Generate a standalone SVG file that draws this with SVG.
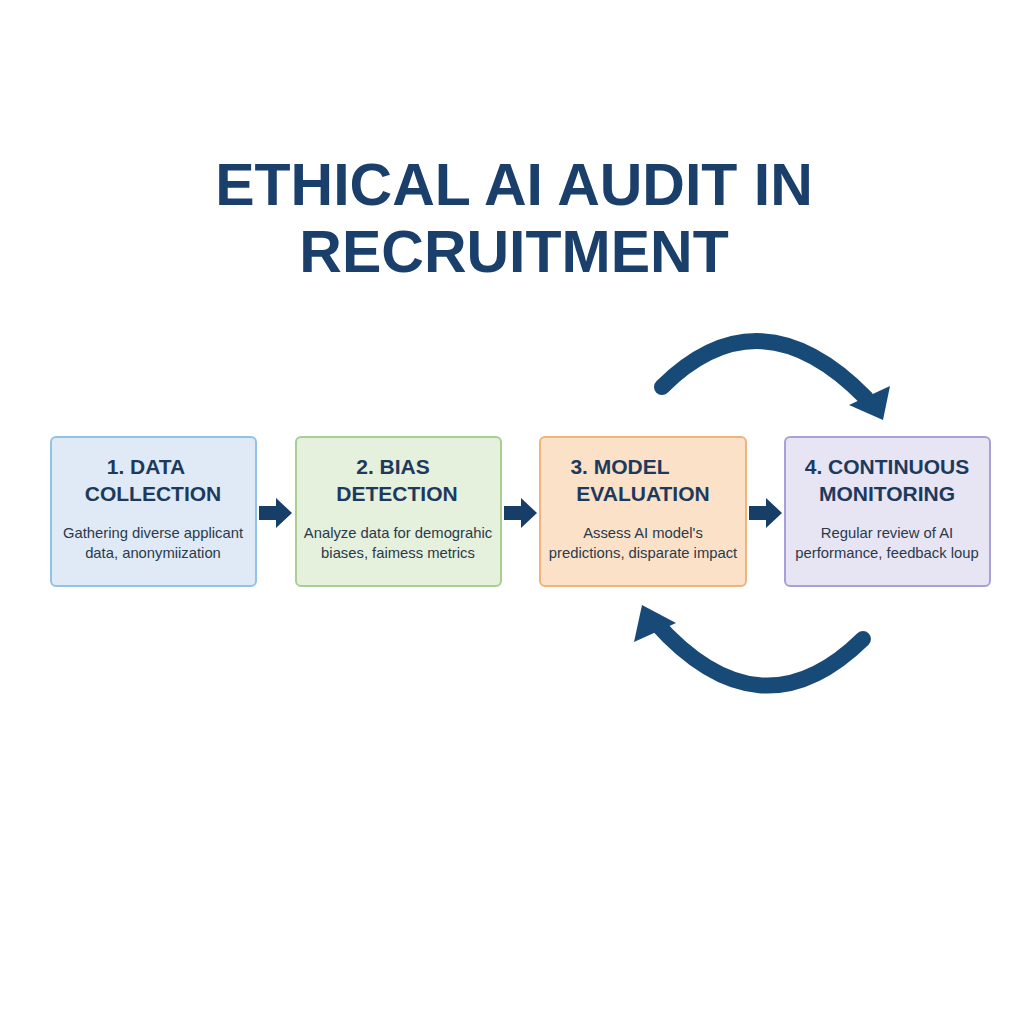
<svg xmlns="http://www.w3.org/2000/svg" width="1024" height="1024" viewBox="0 0 1024 1024">
<style>
.title{font-family:"Liberation Sans",Arial,sans-serif;font-weight:bold;font-size:59px;fill:#1b3f6b;text-anchor:middle}
.h{font-family:"Liberation Sans",Arial,sans-serif;font-weight:bold;font-size:21px;fill:#1d3a5c;text-anchor:middle}
.d{font-family:"Liberation Sans",Arial,sans-serif;font-size:14.8px;fill:#2a3a4a;text-anchor:middle}
.arc{fill:none;stroke:#184a78;stroke-width:16;stroke-linecap:round}
.ah{fill:#184a78}
.sa{fill:#173e66}
</style>
<rect width="1024" height="1024" fill="#ffffff"/>
<text class="title" x="514" y="205">ETHICAL AI AUDIT IN</text>
<text class="title" x="514" y="272">RECRUITMENT</text>

<g id="node1">
<rect x="51" y="437" width="205" height="149" rx="5" fill="#dfeaf6" stroke="#90c3e6" stroke-width="2"/>
<text class="h" x="146" y="474">1. DATA</text>
<text class="h" x="153" y="501">COLLECTION</text>
<text class="d" x="153" y="538">Gathering diverse applicant</text>
<text class="d" x="153" y="558">data, anonymiization</text>
</g>
<g id="node2">
<rect x="296" y="437" width="205" height="149" rx="5" fill="#e5f0dd" stroke="#a8cf8f" stroke-width="2"/>
<text class="h" x="393" y="474">2. BIAS</text>
<text class="h" x="397" y="501">DETECTION</text>
<text class="d" x="398" y="538">Analyze data for demograhic</text>
<text class="d" x="398" y="558">biases, faimess metrics</text>
</g>
<g id="node3">
<rect x="540" y="437" width="206" height="149" rx="5" fill="#fbe1c8" stroke="#f1b37c" stroke-width="2"/>
<text class="h" x="620" y="474">3. MODEL</text>
<text class="h" x="643" y="501">EVALUATION</text>
<text class="d" x="643" y="538">Assess AI model's</text>
<text class="d" x="643" y="558">predictions, disparate impact</text>
</g>
<g id="node4">
<rect x="785" y="437" width="205" height="149" rx="5" fill="#e7e4f4" stroke="#a9a1d6" stroke-width="2"/>
<text class="h" x="887" y="474">4. CONTINUOUS</text>
<text class="h" x="887" y="501">MONITORING</text>
<text class="d" x="887" y="538">Regular review of AI</text>
<text class="d" x="887" y="558">performance, feedback loup</text>
</g>

<g id="connectors">
<polygon class="sa" points="259,506 276,506 276,498 292,513 276,528 276,520 259,520"/>
<polygon class="sa" points="504,506 521,506 521,498 537,513 521,528 521,520 504,520"/>
<polygon class="sa" points="749,506 766,506 766,498 782,513 766,528 766,520 749,520"/>
<path class="arc" d="M662,387 Q760,290 866,398"/>
<polygon class="ah" points="883,420 849,405 890,386"/>
<path class="arc" d="M863,639 Q760,740 655,622"/>
<polygon class="ah" points="642,605 676,623 634,642"/>
</g>
</svg>
